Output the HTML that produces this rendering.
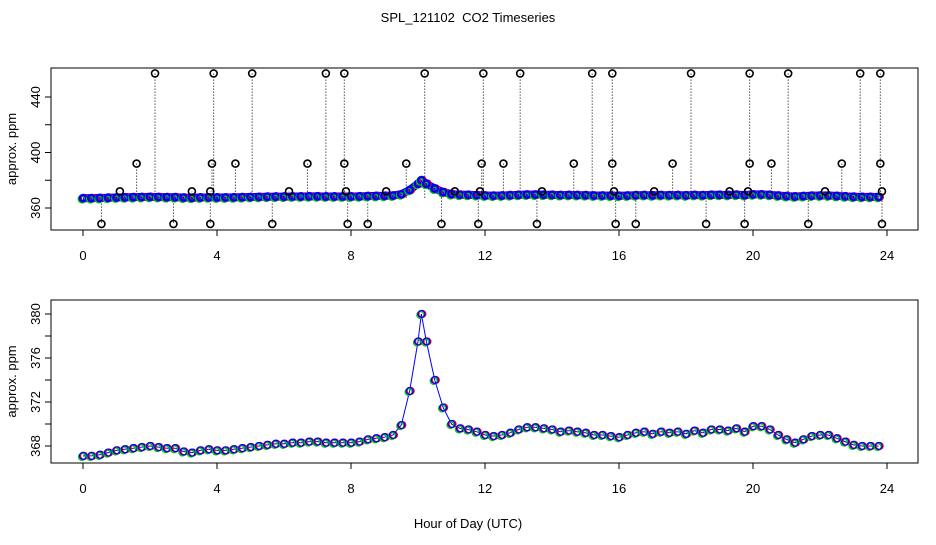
<!DOCTYPE html>
<html><head><meta charset="utf-8"><style>
body{margin:0;background:#fff;}
svg text{font-family:"Liberation Sans",sans-serif;fill:#000;}
</style></head><body>
<svg id="c" width="936" height="540" xmlns="http://www.w3.org/2000/svg">
<text x="468" y="22" font-size="13" text-anchor="middle" xml:space="preserve">SPL_121102  CO2 Timeseries</text>
<text x="468" y="528" font-size="13" text-anchor="middle">Hour of Day (UTC)</text>
<g id="topPanel"></g>
<g id="botPanel"></g>
</svg>
<script>
const hours=[0,0.25,0.5,0.75,1,1.25,1.5,1.75,2,2.25,2.5,2.75,3,3.25,3.5,3.75,
4,4.25,4.5,4.75,5,5.25,5.5,5.75,6,6.25,6.5,6.75,7,7.25,7.5,7.75,
8,8.25,8.5,8.75,9,9.25,9.5,9.75,10,10.1,10.25,10.5,10.75,11,11.25,11.5,11.75,
12,12.25,12.5,12.75,13,13.25,13.5,13.75,14,14.25,14.5,14.75,15,15.25,15.5,15.75,
16,16.25,16.5,16.75,17,17.25,17.5,17.75,18,18.25,18.5,18.75,19,19.25,19.5,19.75,
20,20.25,20.5,20.75,21,21.25,21.5,21.75,22,22.25,22.5,22.75,23,23.25,23.5,23.75];
const co2=[367.1,367.1,367.2,367.4,367.6,367.7,367.8,367.9,368.0,367.9,367.8,367.8,367.5,367.4,367.6,367.7,
367.6,367.6,367.7,367.8,367.9,368.0,368.1,368.2,368.2,368.3,368.3,368.4,368.4,368.3,368.3,368.3,
368.3,368.4,368.6,368.7,368.8,369.0,369.9,373.0,377.5,380.0,377.5,374.0,371.5,370.0,369.6,369.5,369.3,
369.0,368.9,369.0,369.2,369.5,369.7,369.7,369.6,369.5,369.3,369.4,369.3,369.2,369.0,369.0,368.9,
368.8,369.0,369.2,369.3,369.1,369.3,369.2,369.3,369.1,369.4,369.2,369.5,369.5,369.4,369.6,369.3,
369.8,369.8,369.5,369.0,368.6,368.3,368.6,368.9,369.0,369.0,368.7,368.4,368.1,368.0,368.0,368.0];
const outHours=[2.15,3.9,5.05,7.25,7.8,10.2,11.95,13.05,15.2,15.8,18.15,19.9,21.05,23.2,23.8,
1.6,3.85,4.55,6.7,7.8,9.65,11.9,12.55,14.65,15.8,17.6,19.9,20.55,22.65,23.8,
1.1,3.25,3.8,6.15,7.85,9.05,11.1,11.85,13.7,15.85,17.05,19.3,19.85,22.15,23.85,
0.55,2.7,3.8,5.65,7.9,8.5,10.7,11.8,13.55,15.9,16.5,18.6,19.75,21.65,23.85];
const outVals=[457,457,457,457,457,457,457,457,457,457,457,457,457,457,457,
392,392,392,392,392,392,392,392,392,392,392,392,392,392,392,
372,372,372,372,372,372,372,372,372,372,372,372,372,372,372,
348.5,348.5,348.5,348.5,348.5,348.5,348.5,348.5,348.5,348.5,348.5,348.5,348.5,348.5,348.5];
const xTicks=[0,4,8,12,16,20,24];
const topYTicks=[360,380,400,420,440];
const topYLabels=[360,400,440];
const botYTicks=[368,370,372,374,376,378,380];
const botYLabels=[368,372,376,380];

const NS="http://www.w3.org/2000/svg";
function mk(p,tag,a){const e=document.createElementNS(NS,tag);for(const k in a)e.setAttribute(k,a[k]);p.appendChild(e);return e;}
const sx=h=>83+h*(887-83)/24;
const topY=v=>208-(v-360)*1.3875;
const botY=v=>446-(v-368)*11;

function panel(g,y0,y1,yf,yt,yl){
  const r=mk(g,'rect',{x:51,y:y0,width:867,height:y1-y0,fill:'none',stroke:'#000','stroke-width':1});
  
  
  xTicks.forEach(t=>{
    const l=mk(g,'line',{x1:sx(t),x2:sx(t),y1:y1,y2:y1+6,stroke:'#000'});
    
    
    const tx=mk(g,'text',{x:sx(t),y:y1+30,'font-size':13,'text-anchor':'middle'});tx.textContent=t;
    
    
  });
  yt.forEach(t=>{
    const l=mk(g,'line',{x1:45,x2:51,y1:yf(t),y2:yf(t),stroke:'#000'});
    
    
  });
  yl.forEach(t=>{
    const tx=mk(g,'text',{x:0,y:0,'font-size':13,'text-anchor':'middle',transform:`translate(40,${yf(t)}) rotate(-90)`});tx.textContent=t;
    
    
  });
  const yt2=mk(g,'text',{x:0,y:0,'font-size':13,'text-anchor':'middle',transform:`translate(16,${(y0+y1)/2}) rotate(-90)`});yt2.textContent='approx. ppm';
  
  
}
const topG=document.getElementById('topPanel'),botG=document.getElementById('botPanel');
panel(topG,68,230,topY,topYTicks,topYLabels);
panel(botG,300,463,botY,botYTicks,botYLabels);

outHours.forEach((h,i)=>{
  const l=mk(topG,'line',{x1:sx(h),x2:sx(h),y1:topY(367.5),y2:topY(outVals[i]),stroke:'#000','stroke-dasharray':'1,2','stroke-width':1});
  
  
});
for(let i=1;i<hours.length;i++){
  if(hours[i]-hours[i-1]>0.3) continue;
  const l=mk(topG,'line',{x1:sx(hours[i-1]),x2:sx(hours[i]),y1:topY(co2[i-1]),y2:topY(co2[i]),stroke:'#00f','stroke-width':8});
  
  
  const b=mk(botG,'line',{x1:sx(hours[i-1]),x2:sx(hours[i]),y1:botY(co2[i-1]),y2:botY(co2[i]),stroke:'#00f','stroke-width':1});
  
  
}
hours.forEach((h,i)=>{
  const v=co2[i];
  [['#f00',1,0],['#0c0',-1,1],['#00f',0,0]].forEach(([col,dx,dy])=>{
    const c=mk(topG,'circle',{cx:sx(h)+dx,cy:topY(v)+dy,r:3.2,fill:'none',stroke:col,'stroke-width':2.5});
    
    
    const d=mk(botG,'circle',{cx:sx(h)+dx,cy:botY(v)+dy,r:3.5,fill:'none',stroke:col,'stroke-width':1.3});
    
    
  });
});
outHours.forEach((h,i)=>{
  const c=mk(topG,'circle',{cx:sx(h),cy:topY(outVals[i]),r:3.5,fill:'none',stroke:'#000','stroke-width':1.6});
  
  
});
</script>
</body></html>
